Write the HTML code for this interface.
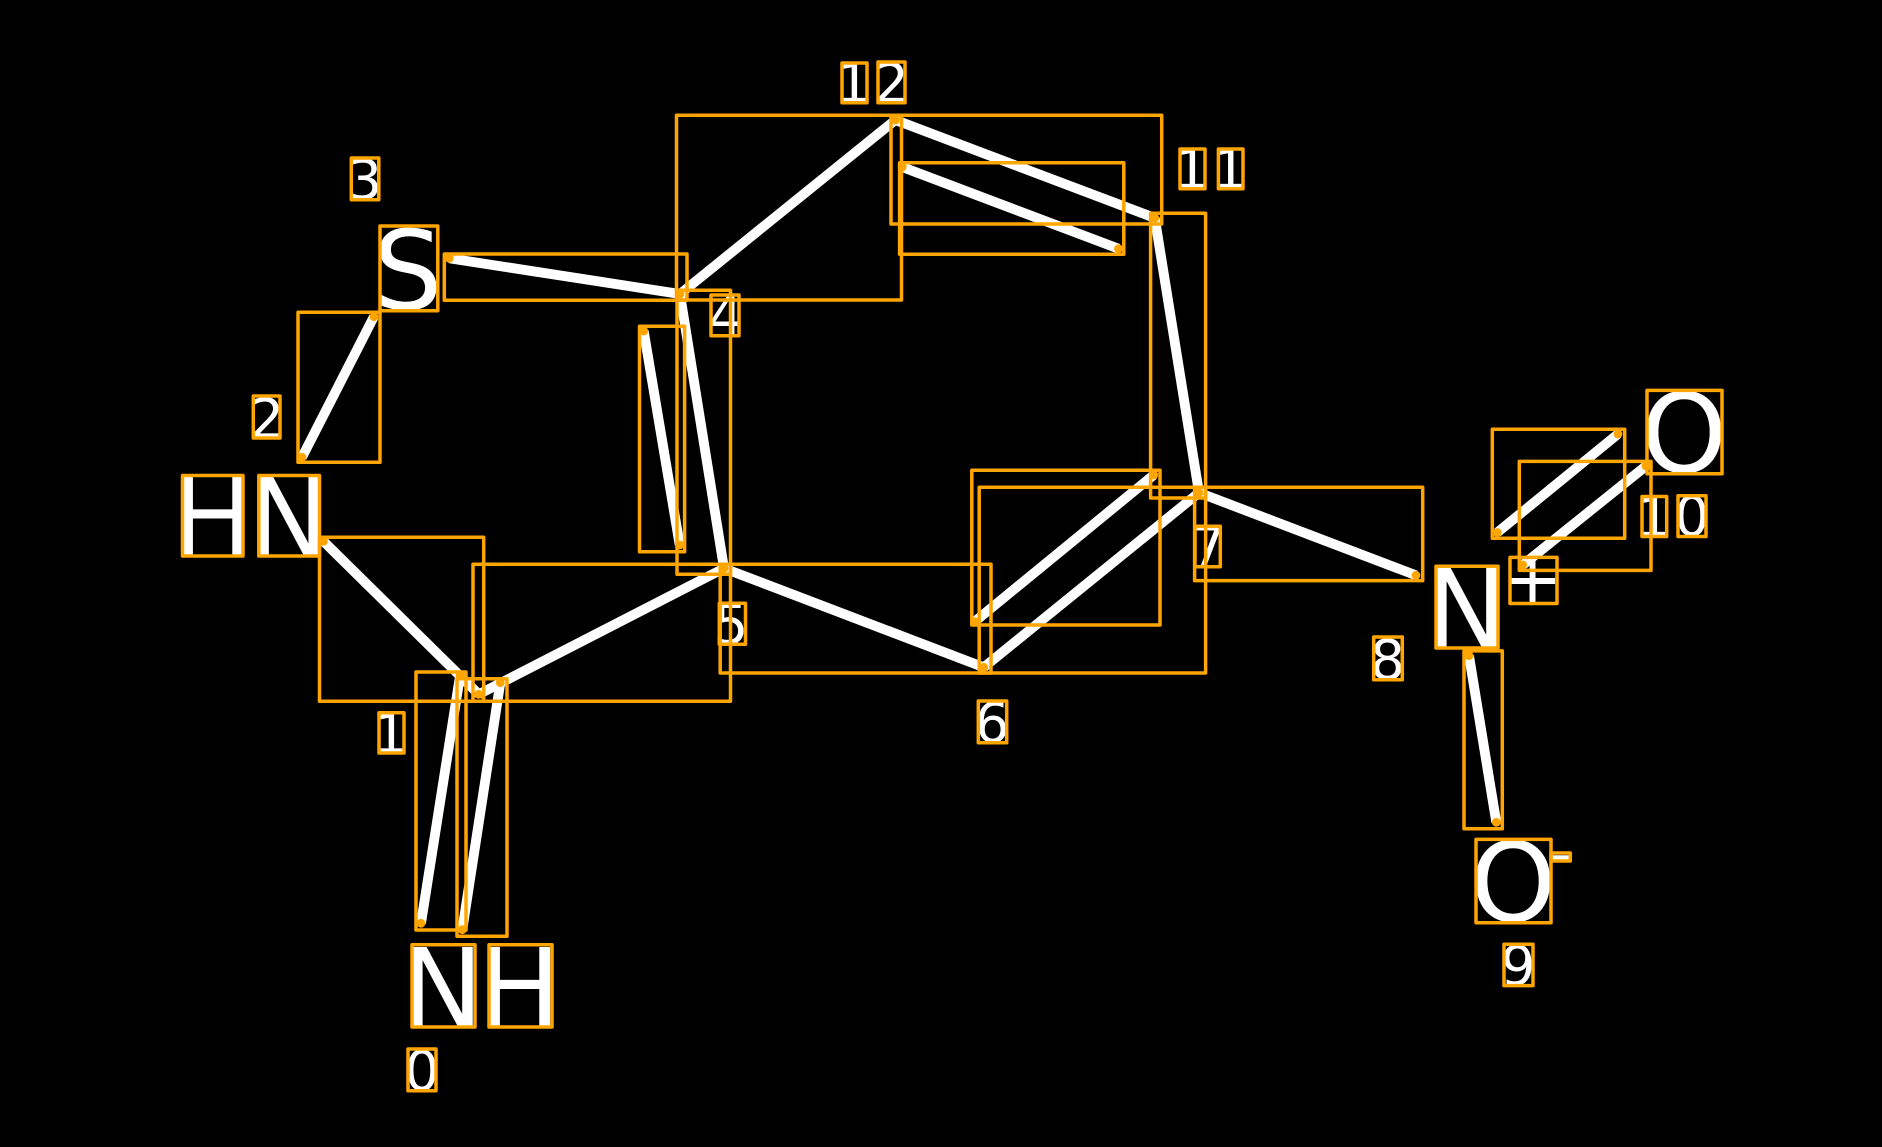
<!DOCTYPE html>
<html>
<head>
<meta charset="utf-8">
<style>
html,body{margin:0;padding:0;background:#000;width:1882px;height:1147px;overflow:hidden}
svg{display:block}
text{font-family:"DejaVu Sans",sans-serif;fill:#fff}
.a{font-size:110px}
.n{font-size:55px}
.s{font-size:72px}
.b line{stroke:#fff;stroke-width:9.8;stroke-linecap:butt}
.r rect{fill:none;stroke:#ffa500;stroke-width:3.5;stroke-linejoin:round}
.d circle{fill:#ffa500}
</style>
</head>
<body>
<svg width="1882" height="1147" viewBox="0 0 1882 1147" xmlns="http://www.w3.org/2000/svg">
<rect width="1882" height="1147" fill="#000"/>
<g class="b">
<line x1="421" y1="923.3" x2="460" y2="676"/>
<line x1="462.3" y1="929.7" x2="500.3" y2="682.7"/>
<line x1="323.4" y1="541.3" x2="478.7" y2="694.3"/>
<line x1="302" y1="457.3" x2="373.9" y2="316.7"/>
<line x1="449.3" y1="258.3" x2="680" y2="294"/>
<line x1="680" y1="294" x2="724" y2="568.3"/>
<line x1="643.7" y1="331" x2="679.7" y2="545"/>
<line x1="724" y1="568.3" x2="478.7" y2="694.3"/>
<line x1="724" y1="568.3" x2="983.8" y2="667.3"/>
<line x1="983.8" y1="667.3" x2="1199" y2="492.7"/>
<line x1="974.6" y1="621.7" x2="1153.7" y2="475"/>
<line x1="1199" y1="492.7" x2="1416" y2="575.3"/>
<line x1="1469" y1="655.7" x2="1496.3" y2="822.3"/>
<line x1="1497.3" y1="532.5" x2="1618" y2="434"/>
<line x1="1522.7" y1="565" x2="1646" y2="466"/>
<line x1="1199" y1="492.7" x2="1154.8" y2="218"/>
<line x1="1154.8" y1="218" x2="895.4" y2="120"/>
<line x1="1118.5" y1="248.7" x2="902.2" y2="167"/>
<line x1="895.4" y1="120" x2="680" y2="294"/>
</g>
<g>
<text class="a" x="401.2" y="1027">N</text>
<text class="a" x="478.2" y="1027">H</text>
<text class="a" x="171.2" y="556.7">H</text>
<text class="a" x="247.5" y="556.7">N</text>
<text class="a" x="372.7" y="309.2">S</text>
<text class="a" x="1425.2" y="648">N</text>
<text class="s" x="1502.4" y="603.5">+</text>
<text class="a" x="1640.8" y="472.2">O</text>
<text class="a" x="1469.8" y="921.2">O</text>
<text class="s" x="1547.5" y="877.8">-</text>
<text class="n" x="404.4" y="1089.9">0</text>
<text class="n" x="373" y="753">1</text>
<text class="n" x="249.3" y="438">2</text>
<text class="n" x="347.1" y="198.9">3</text>
<text class="n" x="708.3" y="335.7">4</text>
<text class="n" x="713.4" y="643.5">5</text>
<text class="n" x="974.5" y="741.9">6</text>
<text class="n" x="1190.5" y="566.7">7</text>
<text class="n" x="1370" y="679">8</text>
<text class="n" x="1500.5" y="984.8">9</text>
<text class="n" x="1636" y="536.5">1</text>
<text class="n" x="1674.4" y="535.7">0</text>
<text class="n" x="1174" y="188.7">1</text>
<text class="n" x="1212.4" y="188.7">1</text>
<text class="n" x="836" y="102.7">1</text>
<text class="n" x="874" y="102.7">2</text>
</g>
<g class="r">
<rect x="412" y="944.7" width="63" height="82.3"/>
<rect x="489" y="944.7" width="63" height="82.3"/>
<rect x="182.5" y="475.5" width="60.5" height="80.5"/>
<rect x="258.8" y="475.5" width="60.7" height="80.5"/>
<rect x="380" y="226" width="57.8" height="84.7"/>
<rect x="1436" y="566.3" width="62" height="81.7"/>
<rect x="1510" y="557.4" width="47" height="46.1"/>
<rect x="1647" y="390.4" width="75" height="83.3"/>
<rect x="1476" y="839.4" width="75" height="83.3"/>
<rect x="1551" y="853" width="19.3" height="8"/>
<rect x="408" y="1049" width="28" height="41.7"/>
<rect x="379" y="712.7" width="25" height="40.3"/>
<rect x="253.3" y="396" width="26.7" height="42"/>
<rect x="351.3" y="158" width="27.5" height="41.7"/>
<rect x="711" y="295" width="28" height="40.7"/>
<rect x="719.3" y="603.3" width="26.2" height="41"/>
<rect x="978.3" y="701" width="28.4" height="41.7"/>
<rect x="1195" y="526.3" width="25.3" height="40.4"/>
<rect x="1373.7" y="637" width="28.6" height="42.8"/>
<rect x="1504" y="944.3" width="29" height="41.3"/>
<rect x="1642" y="496.5" width="24.7" height="40"/>
<rect x="1678" y="495.7" width="28" height="40.8"/>
<rect x="1180" y="149" width="25" height="39.7"/>
<rect x="1218.4" y="149" width="24.6" height="39.7"/>
<rect x="842" y="63" width="25" height="39.7"/>
<rect x="878" y="62" width="27" height="40.7"/>
<rect x="416" y="672" width="50" height="258"/>
<rect x="457" y="678.7" width="50" height="257.6"/>
<rect x="319.5" y="537.3" width="164.2" height="164"/>
<rect x="298" y="312.3" width="82" height="150"/>
<rect x="444.3" y="254" width="242.7" height="46.3"/>
<rect x="677" y="290.3" width="53.5" height="284"/>
<rect x="639.5" y="326.3" width="45.1" height="225.4"/>
<rect x="473" y="564.3" width="257.5" height="137"/>
<rect x="720.2" y="564.3" width="270.8" height="108.7"/>
<rect x="979.2" y="487.3" width="226.4" height="185.7"/>
<rect x="971.8" y="470.3" width="188.2" height="154.7"/>
<rect x="1194.6" y="487.3" width="228.1" height="93.3"/>
<rect x="1464" y="650.9" width="38.3" height="177.9"/>
<rect x="1492.3" y="429.2" width="132.4" height="109"/>
<rect x="1519.3" y="461.4" width="131.7" height="109"/>
<rect x="1150.6" y="213.3" width="55" height="284.7"/>
<rect x="891" y="115.3" width="270.7" height="108.7"/>
<rect x="899.6" y="162.7" width="224.2" height="91.6"/>
<rect x="676.5" y="115.3" width="225" height="184.7"/>
</g>
<g class="d">
<circle cx="421" cy="923.3" r="4.4"/>
<circle cx="460" cy="676" r="4.4"/>
<circle cx="462.3" cy="929.7" r="4.4"/>
<circle cx="500.3" cy="682.7" r="4.4"/>
<circle cx="323.4" cy="541.3" r="4.4"/>
<circle cx="478.7" cy="694.3" r="4.4"/>
<circle cx="302" cy="457.3" r="4.4"/>
<circle cx="373.9" cy="316.7" r="4.4"/>
<circle cx="449.3" cy="258.3" r="4.4"/>
<circle cx="680" cy="294" r="4.4"/>
<circle cx="724" cy="568.3" r="4.4"/>
<circle cx="643.7" cy="331" r="4.4"/>
<circle cx="679.7" cy="545" r="4.4"/>
<circle cx="983.8" cy="667.3" r="4.4"/>
<circle cx="1199" cy="492.7" r="4.4"/>
<circle cx="974.6" cy="621.7" r="4.4"/>
<circle cx="1153.7" cy="475" r="4.4"/>
<circle cx="1416" cy="575.3" r="4.4"/>
<circle cx="1469" cy="655.7" r="4.4"/>
<circle cx="1496.3" cy="822.3" r="4.4"/>
<circle cx="1497.3" cy="532.5" r="4.4"/>
<circle cx="1618" cy="434" r="4.4"/>
<circle cx="1522.7" cy="565" r="4.4"/>
<circle cx="1646" cy="466" r="4.4"/>
<circle cx="1154.8" cy="218" r="4.4"/>
<circle cx="895.4" cy="120" r="4.4"/>
<circle cx="1118.5" cy="248.7" r="4.4"/>
<circle cx="902.2" cy="167" r="4.4"/>
</g>
</svg>
</body>
</html>
